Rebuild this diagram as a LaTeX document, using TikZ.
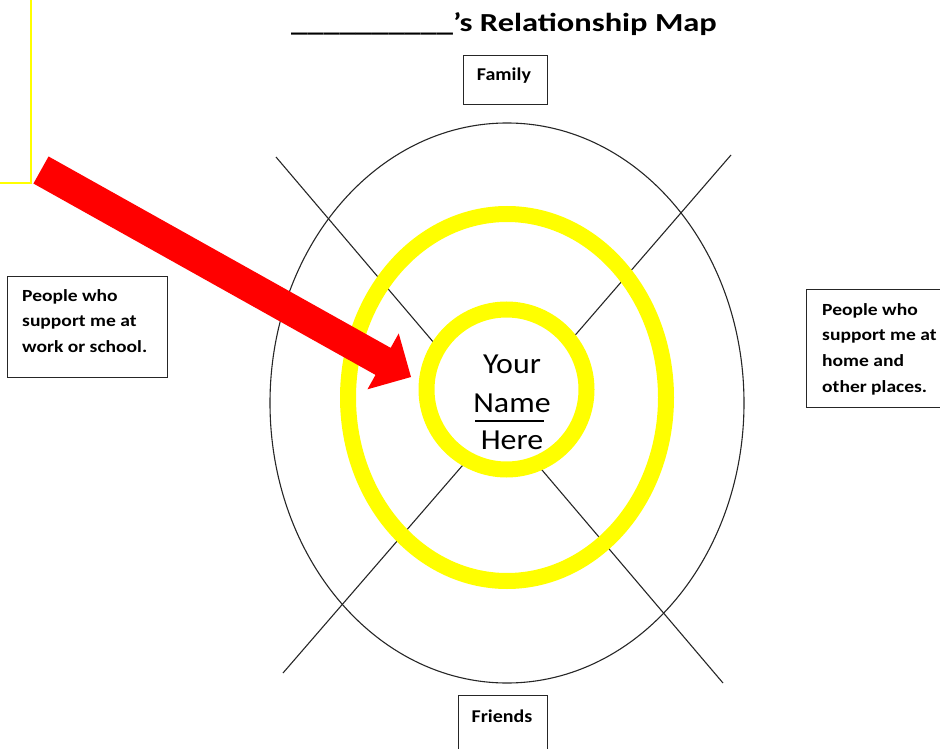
\documentclass[tikz,border=0pt]{standalone}
\usepackage{fontspec}
\setmainfont{Carlito}
\newfontfamily\titlefont[FakeStretch=1.25]{Carlito}
\newfontfamily\boxfont[FakeStretch=1.15]{Carlito}
\newfontfamily\tagfont[FakeStretch=1.11]{Carlito}
\newfontfamily\middlefont[FakeStretch=1.1]{Carlito}
\usetikzlibrary{calc}
\definecolor{markyellow}{RGB}{255,255,0}
\definecolor{markred}{RGB}{255,0,0}
\begin{document}
\begin{tikzpicture}[x=1pt,y=-1pt,
  thinline/.style={line width=1.1pt, draw=black!85},
  ring/.style={draw=markyellow, line width=16pt},
  boxframe/.style={draw=black!85, line width=1.3pt, inner sep=0pt},
  boxtext/.style={inner sep=0pt, align=left, font=\boxfont\bfseries\fontsize{17}{25.7}\selectfont},
  tagtext/.style={inner sep=0pt, font=\tagfont\bfseries\fontsize{18}{22}\selectfont},
  centertext/.style={inner sep=0pt, font=\middlefont\fontsize{29}{36}\selectfont},
]
\useasboundingbox (0,0) rectangle (940,749);

% crossing guide lines
\coordinate (l1a) at (276,157);
\coordinate (l1b) at (723,683);
\coordinate (l2a) at (731,155);
\coordinate (l2b) at (283,673);
\draw[thinline] (l1a) -- (l1b);
\draw[thinline] (l2a) -- (l2b);

% outer ring
\draw[thinline] (507,403) ellipse [x radius=237, y radius=280];

% middle highlighted ring
\draw[ring] (507,397.5) ellipse [x radius=159, y radius=183.5];

% inner highlighted circle
\draw[ring, fill=white] (506.5,389.5) circle [radius=80];

% centre text
\node[centertext] (your) at (512,364) {Your};
\node[centertext] (name) at (512,403) {Name};
\node[centertext] (here) at (512,440) {Here};
\coordinate (ul) at (475,421);
\coordinate (ur) at (544,421);
\draw[line width=1.4pt, black] (ul) -- (ur);

% title
\node[inner sep=0pt, anchor=base west, font=\titlefont\bfseries\fontsize{26}{30}\selectfont] (title) at (291,32)
  {\_\_\_\_\_\_\_\_\_\_’s Relationship Map};

% category boxes
\node[boxframe, anchor=north west, minimum width=84pt, minimum height=49pt] (familybox) at (463,55) {};
\node[tagtext, anchor=base] (family) at (504,81) {Family};

\node[boxframe, anchor=north west, minimum width=89pt, minimum height=70pt] (friendsbox) at (458,695) {};
\node[tagtext, anchor=base] (friends) at (502,722) {Friends};

\node[boxframe, anchor=north west, minimum width=160pt, minimum height=101pt] (workbox) at (7,276) {};
\node[boxtext, anchor=north west] (work) at (22,289)
  {People who\\support me at\\work or school.};

\node[boxframe, anchor=north west, minimum width=150pt, minimum height=118pt] (homebox) at (806,289) {};
\node[boxtext, anchor=north west] (home) at (822,303)
  {People who\\support me at\\home and\\other places.};

% yellow frame corner at top left
\coordinate (fa) at (31,-2);
\coordinate (fb) at (31,183);
\coordinate (fc) at (-2,183);
\draw[markyellow, line width=1.6pt] (fa) -- (fb) -- (fc);

% red pointer arrow
\coordinate (A) at (41,170);
\coordinate (T) at (411,377);
\coordinate (H) at ($(A)!392pt!(T)$);
\fill[markred]
  ($(A)!15.5pt!90:(T)$) -- ($(H)!15.5pt!-90:(A)$) -- ($(H)!32pt!-90:(A)$) -- (T)
  -- ($(H)!32pt!90:(A)$) -- ($(H)!15.5pt!90:(A)$) -- ($(A)!15.5pt!-90:(T)$) -- cycle;
\end{tikzpicture}
\end{document}
